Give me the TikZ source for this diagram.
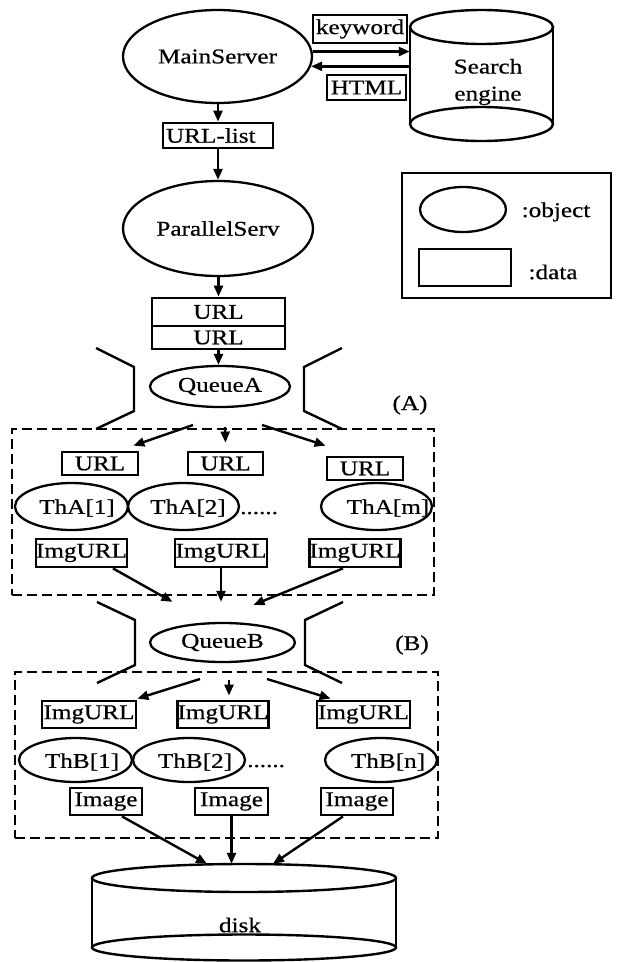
\documentclass[tikz,border=0pt]{standalone}
\usepackage{fontspec}
\setmainfont{Liberation Serif}[FakeStretch=1.2,FakeBold=0.6]
\usetikzlibrary{arrows.meta,shapes.geometric,calc}
\begin{document}
\begin{tikzpicture}[x=1pt,y=-1pt,
  every node/.style={font=\fontsize{21}{23}\selectfont, inner sep=0pt},
  obj/.style={draw, ellipse, line width=2.3pt},
  dat/.style={draw, rectangle, line width=2.8pt},
  arr/.style={line width=2.4pt, -{Triangle[length=11pt,width=9pt]}},
  fun/.style={line width=2.4pt},
  grp/.style={draw, line width=2.6pt, dash pattern=on 10pt off 5pt},
  shp/.style={line width=2.4pt},
  txt/.style={inner sep=0pt}
]
\fill[white] (0,0) rectangle (618,962);
\useasboundingbox (0,0) rectangle (618,962);

% ---------- top ----------
\node[obj, minimum width=189pt, minimum height=93pt] (ms) at (217.5,56.5) {MainServer};
\node[dat, minimum width=94pt, minimum height=28pt] (kw) at (360,29) {keyword};
\node[dat, minimum width=79pt, minimum height=25pt] (html) at (366.5,87.5) {HTML};

% search engine cylinder
\node[minimum width=143pt, minimum height=132pt] (se) at (481.5,75.5) {};
\draw[shp] (481.5,27) ellipse [x radius=71.5pt, y radius=17pt];
\draw[shp] (481.5,124) ellipse [x radius=71.5pt, y radius=17pt];
\draw[shp] (410,27) -- (410,124) (553,27) -- (553,124);
\node[txt, align=center, font=\fontsize{21}{27}\selectfont] (set) at (488,82) {Search\\engine};

\draw[arr] (ms.3) -- (ms.3 -| se.west);
\draw[arr] (se.west |- ms.-6) -- (ms.-6);

\node[dat, text width=104pt, align=left, inner xsep=3pt, minimum height=25pt] (ul) at (218,135.5) {URL-list};
\node[obj, minimum width=190pt, minimum height=95pt] (ps) at (218,228.5) {ParallelServ};
\draw[arr] (ms.south -| ul.north) -- (ul.north);
\draw[arr] (ul.south) -- (ps.north -| ul.south);

% legend
\node[draw, line width=2.6pt, minimum width=209pt, minimum height=125pt] (leg) at (506.5,235.5) {};
\node[obj, minimum width=86pt, minimum height=45pt] (lo) at (463,209.5) {};
\node[dat, line width=2.4pt, minimum width=92pt, minimum height=37pt] (ld) at (465,267.5) {};
\node[txt] (lot) at (556,212) {:object};
\node[txt] (ldt) at (553,272) {:data};

% URL queue
\node[dat, minimum width=133pt, minimum height=28pt] (ua) at (218.5,312) {URL};
\node[dat, minimum width=133pt, minimum height=23pt] (ub) at (218.5,337.5) {URL};
\draw[arr] (ps.south -| ua.north) -- (ua.north);

% ---------- section A ----------
\node[obj, minimum width=140pt, minimum height=41pt] (qa) at (220,386.5) {QueueA};
\draw[arr] (ub.south) -- (qa.north -| ub.south);
\draw[fun] (96,348) -- (134,367) -- (134,411) -- (96,429);
\draw[fun] (342,348) -- (304,367) -- (304,411) -- (342,429);
\node[txt] (labA) at (410,405) {(A)};

\node[grp, minimum width=422pt, minimum height=166pt] (gA) at (223,512) {};

\coordinate (a1) at (193,425);
\coordinate (a2) at (225,427);
\coordinate (a3) at (262,425);

\node[dat, minimum width=76pt, minimum height=23pt] (uA1) at (100,463.5) {URL};
\node[dat, minimum width=75pt, minimum height=23pt] (uA2) at (225.5,463.5) {URL};
\node[dat, minimum width=76pt, minimum height=23pt] (uA3) at (365,468.5) {URL};

\draw[arr] (a1) -- ([xshift=-6pt,yshift=5pt]uA1.north east);
\draw[arr] (a2) -- ([yshift=8pt]uA2.north);
\draw[arr] (a3) -- ([yshift=10pt]uA3.north west);

\node[obj, minimum width=113pt, minimum height=47pt] (tA1) at (71.5,506.5) {};
\node[obj, minimum width=111pt, minimum height=47pt] (tA2) at (183.5,506.5) {};
\node[obj, minimum width=111pt, minimum height=47pt] (tAm) at (376.5,506.5) {};
\node[txt] (tA1t) at (77,508) {ThA[1]};
\node[txt] (tA2t) at (188,508) {ThA[2]};
\node[txt] (tAmt) at (388,508) {ThA[m]};
\node[txt, anchor=base west] (dA) at (240,514) {......};

\node[dat, minimum width=91pt, minimum height=28pt] (iA1) at (81.5,553) {ImgURL};
\node[dat, minimum width=92pt, minimum height=28pt] (iA2) at (221,553) {ImgURL};
\node[dat, minimum width=90pt, minimum height=28pt] (iA3) at (355,553) {ImgURL};

% ---------- section B ----------
\node[obj, minimum width=145pt, minimum height=39pt] (qb) at (222.5,642.5) {QueueB};
\draw[arr] ([xshift=31.5pt]iA1.south) -- ([xshift=-50pt,yshift=20pt]qb.north);
\draw[arr] (iA2.south) -- ([yshift=20pt]qb.north -| iA2.south);
\draw[arr] ([xshift=-12pt]iA3.south) -- ([xshift=31pt,yshift=17pt]qb.north);

\draw[fun] (97,602) -- (135,620) -- (135,665) -- (97,683);
\draw[fun] (343,602) -- (305,620) -- (305,665) -- (342,683);
\node[txt] (labB) at (412,645) {(B)};

\node[grp, minimum width=423pt, minimum height=166pt] (gB) at (226.5,755) {};

\coordinate (b1) at (200,679);
\coordinate (b2) at (229,680);
\coordinate (b3) at (267,679);

\node[dat, minimum width=94pt, minimum height=27pt] (iB1) at (89,714.5) {ImgURL};
\node[dat, minimum width=90pt, minimum height=27pt] (iB2) at (223,714.5) {ImgURL};
\node[dat, minimum width=93pt, minimum height=27pt] (iB3) at (363.5,714.5) {ImgURL};

\draw[arr] (b1) -- ([yshift=1pt]iB1.north east);
\draw[arr] (b2) -- ([xshift=6pt,yshift=4pt]iB2.north);
\draw[arr] (b3) -- ([xshift=15pt,yshift=1pt]iB3.north west);

\node[obj, minimum width=113pt, minimum height=44pt] (tB1) at (75.5,760) {};
\node[obj, minimum width=112pt, minimum height=44pt] (tB2) at (189,760) {};
\node[obj, minimum width=112pt, minimum height=44pt] (tBn) at (381,760) {};
\node[txt] (tB1t) at (82,762) {ThB[1]};
\node[txt] (tB2t) at (195,762) {ThB[2]};
\node[txt] (tBnt) at (388,762) {ThB[n]};
\node[txt, anchor=base west] (dB) at (247,767) {......};

\node[dat, minimum width=72pt, minimum height=27pt] (im1) at (106,801.5) {Image};
\node[dat, minimum width=73pt, minimum height=27pt] (im2) at (231.5,801.5) {Image};
\node[dat, minimum width=72pt, minimum height=27pt] (im3) at (357,801.5) {Image};

% disk
\node[minimum width=304pt, minimum height=97pt] (disk) at (244,912.5) {};
\draw[shp] (244,878) ellipse [x radius=152pt, y radius=14pt];
\draw[shp] (244,947.5) ellipse [x radius=152pt, y radius=13pt];
\draw[shp] (92,878) -- (92,947.5) (396,878) -- (396,947.5);
\node[txt] (diskt) at (240,925) {disk};

\draw[arr] ([xshift=16pt]im1.south) -- ([xshift=-37pt]disk.north);
\draw[arr] (im2.south) -- (disk.north -| im2.south);
\draw[arr] ([xshift=-14pt]im3.south) -- ([xshift=29pt]disk.north);
\end{tikzpicture}
\end{document}
